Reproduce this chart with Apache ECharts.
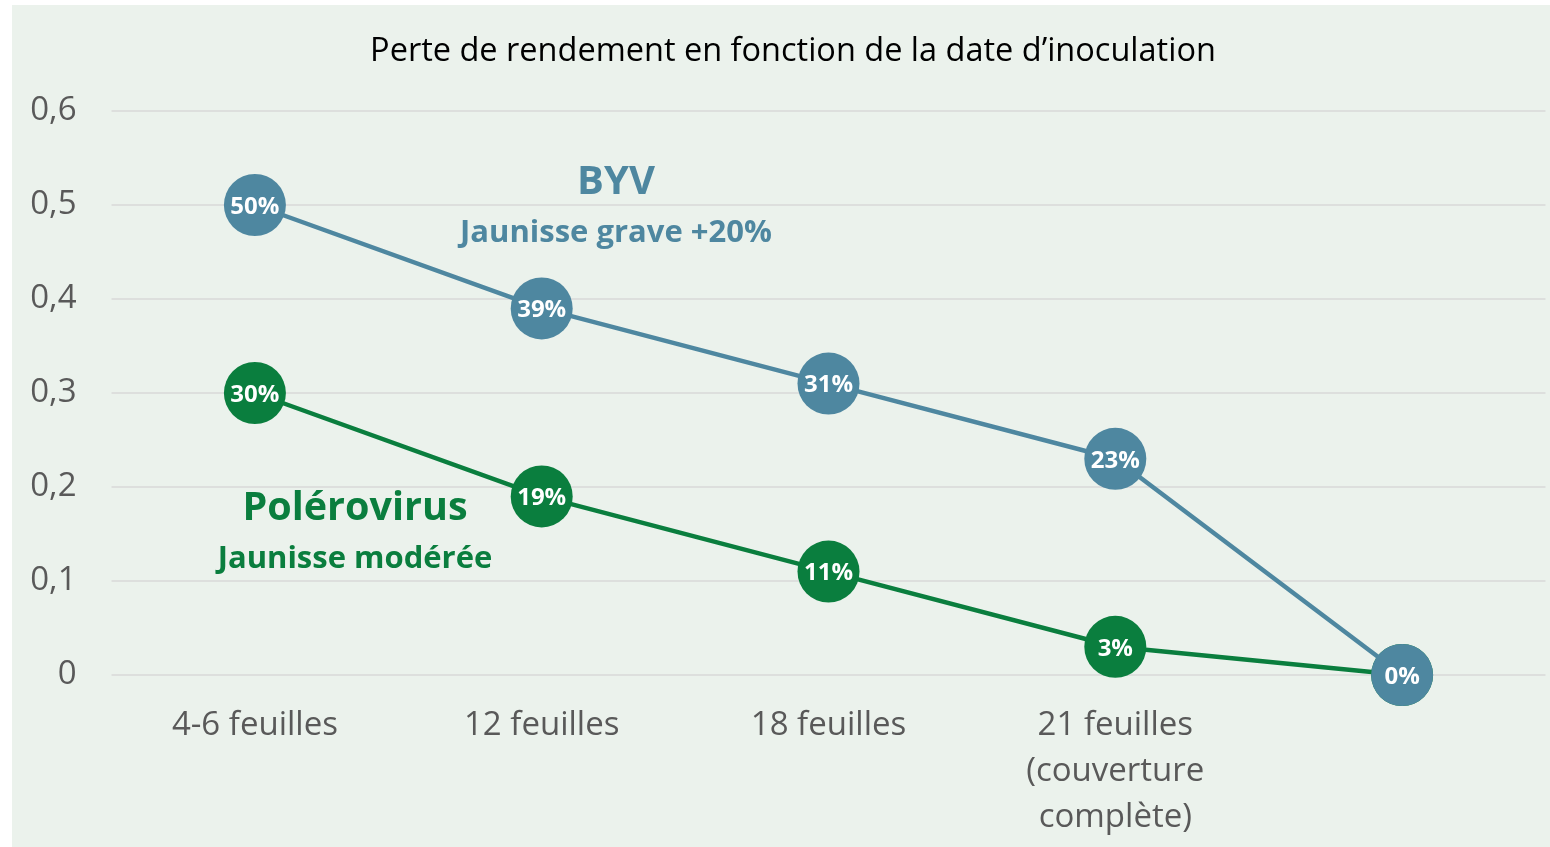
<!DOCTYPE html>
<html><head><meta charset="utf-8">
<script src="https://cdn.jsdelivr.net/npm/echarts@6/dist/echarts.min.js"></script>
<style>html,body{margin:0;padding:0;background:#fff}#c{width:1550px;height:847px}</style>
</head><body><div id="c"></div>
<script>
const categories = ["4-6 feuilles", "12 feuilles", "18 feuilles", "21 feuilles\n(couverture\ncomplète)", ""];
const byvValues = [0.50, 0.39, 0.31, 0.23, 0];
const poleroValues = [0.30, 0.19, 0.11, 0.03, 0];
const yTicks = [0, 0.1, 0.2, 0.3, 0.4, 0.5, 0.6];

const BLUE = '#4E87A0', GREEN = '#0A7E3E';
const FONT = '"Open Sans", Lato, sans-serif';

const chart = echarts.init(document.getElementById('c'), null, {renderer: 'canvas'});
function lbl(v){ return Math.round(v*100) + '%'; }
chart.setOption({
  backgroundColor: '#fff',
  animation: false,
  graphic: [
    {type: 'rect', z: -10, silent: true, shape: {x: 12, y: 5, width: 1538, height: 842}, style: {fill: '#EBF2EC'}},
    {type: 'text', x: 793, y: 52, z: 10, style: {text: 'Perte de rendement en fonction de la date d’inoculation', font: '32.5px ' + FONT, fill: '#000', align: 'center', verticalAlign: 'middle'}},
    {type: 'text', x: 616, y: 183, z: 10, style: {text: 'BYV', font: 'bold 40px ' + FONT, fill: BLUE, align: 'center', verticalAlign: 'middle'}},
    {type: 'text', x: 616, y: 233, z: 10, style: {text: 'Jaunisse grave +20%', font: 'bold 31px ' + FONT, fill: BLUE, align: 'center', verticalAlign: 'middle'}},
    {type: 'text', x: 355, y: 509, z: 10, style: {text: 'Polérovirus', font: 'bold 39.5px ' + FONT, fill: GREEN, align: 'center', verticalAlign: 'middle'}},
    {type: 'text', x: 355, y: 559, z: 10, style: {text: 'Jaunisse modérée', font: 'bold 31px ' + FONT, fill: GREEN, align: 'center', verticalAlign: 'middle'}}
  ],
  grid: {left: 111.5, right: 4.5, top: 111, bottom: 172, containLabel: false},
  xAxis: {
    type: 'category', data: categories, boundaryGap: true,
    axisLine: {show: false}, axisTick: {show: false},
    axisLabel: {color: '#595959', fontFamily: FONT, fontSize: 33, margin: 28, lineHeight: 46, interval: 0}
  },
  yAxis: {
    type: 'value', min: 0, max: 0.6, interval: 0.1,
    axisLine: {show: false}, axisTick: {show: false},
    splitLine: {lineStyle: {color: '#D9D9D9', width: 1.5}},
    axisLabel: {color: '#595959', fontFamily: FONT, fontSize: 33, margin: 35, padding: [5, 0, 0, 0],
      formatter: v => yTicks.includes(Math.round(v*10)/10) ? String(Math.round(v*10)/10).replace('.', ',') : ''}
  },
  series: [
    {name: 'Polérovirus', type: 'line', data: poleroValues, z: 2,
      lineStyle: {color: GREEN, width: 4.5}, itemStyle: {color: GREEN},
      symbol: 'circle', symbolSize: 62, showAllSymbol: true,
      label: {show: true, position: 'inside', offset: [0, 2], formatter: p => lbl(p.value), color: '#fff', fontFamily: FONT, fontWeight: 'bold', fontSize: 24}},
    {name: 'BYV', type: 'line', data: byvValues, z: 3,
      lineStyle: {color: BLUE, width: 4.5}, itemStyle: {color: BLUE},
      symbol: 'circle', symbolSize: 62, showAllSymbol: true,
      label: {show: true, position: 'inside', offset: [0, 2], formatter: p => lbl(p.value), color: '#fff', fontFamily: FONT, fontWeight: 'bold', fontSize: 24}}
  ]
});
</script></body></html>
